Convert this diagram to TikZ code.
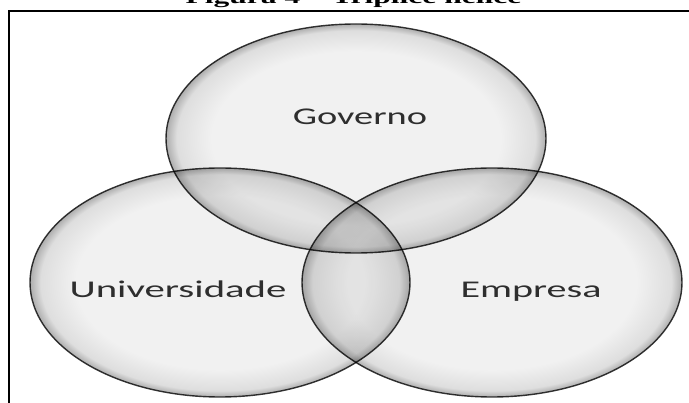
\documentclass[tikz,border=0pt]{standalone}
\usepackage{fontspec}
\setmainfont{Liberation Serif}
\newfontfamily\lblfont{Carlito}
\usetikzlibrary{shapes.geometric}
\definecolor{rimA}{gray}{0.945}
\definecolor{rimB}{gray}{0.87}
\definecolor{rimC}{gray}{0.68}
\definecolor{edgecol}{gray}{0.22}
\definecolor{txtcol}{gray}{0.18}
\pgfdeclareradialshading{rim}{\pgfpoint{0bp}{0bp}}{color(0bp)=(rimA); color(19bp)=(rimA); color(23.6bp)=(rimB); color(25bp)=(rimC); color(50bp)=(rimC)}
\tikzset{
  venn/.style={ellipse, inner sep=0pt, minimum width=380pt, minimum height=229pt,
    shading=rim, draw=edgecol, line width=1.4pt},
  lbl/.style={anchor=base, inner sep=0pt, text=txtcol, font=\lblfont\fontsize{24}{24}\selectfont},
  frame/.style={line width=2.4pt, draw=black}
}
\begin{document}
\begin{tikzpicture}[x=1pt,y=-1pt]
\useasboundingbox (0,0) rectangle (689,403);
\begin{scope}[blend group=multiply]
  \node[venn] (gov) at (356,138.5) {};
  \node[venn] (uni) at (220,282.5) {};
  \node[venn] (emp) at (492,282.5) {};
\end{scope}
\node[lbl] (tgov) at (360,125) {\scalebox{1.6}[1]{Governo}};
\node[lbl] (tuni) at (178,298) {\scalebox{1.7}[1]{Universidade}};
\node[lbl] (temp) at (531,298) {\scalebox{1.67}[1]{Empresa}};
\node[anchor=base, inner sep=0pt] (title) at (353.5,3.5) {\scalebox{1.66}[1]{\fontsize{19}{19}\selectfont\bfseries Figura 4 – Tríplice hélice}};
\coordinate (fr1) at (689,11);
\coordinate (fr2) at (9,11);
\coordinate (fr3) at (9,403);
\draw[frame] (fr1) -- (fr2) -- (fr3);
\end{tikzpicture}
\end{document}
